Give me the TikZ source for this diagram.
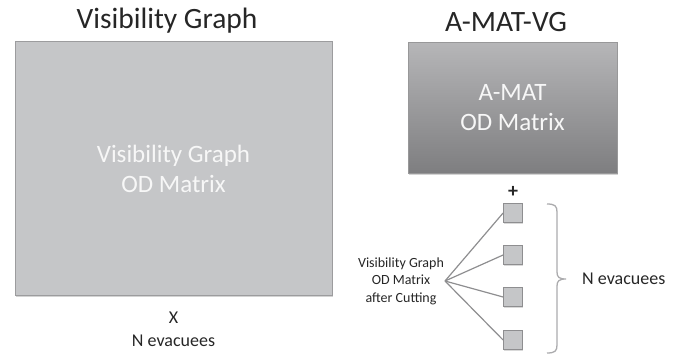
\documentclass[tikz,border=0pt]{standalone}
\usepackage{fontspec}
\setmainfont{Carlito}
\usepackage{tikz}
\usetikzlibrary{positioning,calc,shadows}
\definecolor{Ink}{HTML}{262626}
\definecolor{Edge}{HTML}{9C9C9E}
\definecolor{PanelFill}{HTML}{C5C6C8}
\definecolor{DarkTop}{HTML}{B6B6B8}
\definecolor{DarkBot}{HTML}{7E7E80}
\definecolor{Soft}{HTML}{F7F7F7}
\definecolor{Wire}{HTML}{8E8E90}
\definecolor{Bracket}{HTML}{ABABAD}
\tikzset{
  heading/.style={text=Ink,inner sep=0pt,font=\fontsize{29.5}{31}\selectfont},
  panel/.style={draw=Edge,line width=0.8pt,fill=PanelFill,text=Soft,align=center,
    font=\fontsize{25}{30}\selectfont,
    drop shadow={shadow xshift=1.2pt,shadow yshift=-1.8pt,opacity=0.35}},
  darkpanel/.style={panel,draw=DarkBot!80,top color=DarkTop,bottom color=DarkBot},
  cell/.style={draw=Wire,line width=0.8pt,fill=PanelFill,minimum size=19pt,inner sep=0pt,
    drop shadow={shadow xshift=0.8pt,shadow yshift=-1pt,opacity=0.3}},
  wire/.style={draw=Wire,line width=1.2pt},
  note/.style={text=Ink,align=center,inner sep=0pt,font=\fontsize{18}{23}\selectfont},
  smallnote/.style={text=Ink,align=center,inner sep=0pt,font=\fontsize{14}{17.5}\selectfont},
  bracket/.style={draw=Bracket,line width=1.3pt}
}

\begin{document}
\begin{tikzpicture}[x=1pt,y=-1pt]
  \useasboundingbox (0,0) rectangle (683,356);
  % left: plain visibility graph
  \node[panel,minimum width=317pt,minimum height=254pt] (vgbox) at (173.5,168.5)
    {Visibility Graph\\OD Matrix};
  \node[heading] (vgtitle) at (167,21) {Visibility Graph};
  \node[note,below=16pt of vgbox] (vgcount) {X\\N evacuees};
  % right: A-MAT-VG
  \node[darkpanel,minimum width=209pt,minimum height=131pt] (amatbox) at (512.5,107.5)
    {A-MAT\\OD Matrix};
  \node[heading] (amattitle) at (506,22) {A-MAT-VG};
  \foreach \i/\y in {1/213,2/255,3/297,4/340}
    \node[cell] (c\i) at (513,\y) {};
  \node[text=Ink,inner sep=0pt,font=\fontsize{20}{22}\selectfont\bfseries,above=5pt of c1] (plus) {+};
  \node[smallnote] (cutlabel) at (401,281) {Visibility Graph\\OD Matrix\\after Cutting};
  \coordinate (fan) at (445,281);
  \foreach \i in {1,...,4}
    \draw[wire] (fan) -- (c\i.west);
  % bracket round the cut matrices
  \coordinate (bracetop) at (547,204);
  \coordinate (bracebot) at (547,353);
  \coordinate (bracetip) at (566,279);
  \draw[bracket] (bracetop) .. controls (555,204) and (557,206) .. (557,212)
    -- (557,272) .. controls (557,277) and (559,279) .. (bracetip)
    (bracetip) .. controls (559,279) and (557,281) .. (557,286)
    -- (557,345) .. controls (557,351) and (555,353) .. (bracebot);
  \node[note,anchor=west,right=16pt of bracetip] (nevac) {N evacuees};
\end{tikzpicture}
\end{document}
